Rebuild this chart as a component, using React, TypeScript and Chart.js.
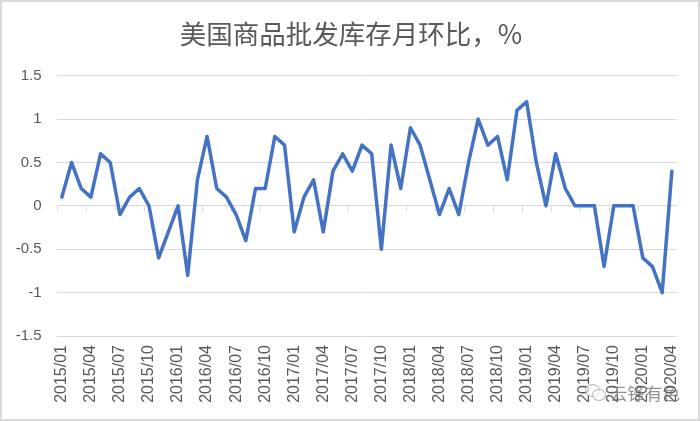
import React, { useEffect, useRef } from 'react';
import { Chart, registerables } from 'chart.js';

Chart.register(...registerables);

const TITLE = '美国商品批发库存月环比，%';
const WATERMARK = '云锋有色';

const categories = [
  '2015/01', '2015/02', '2015/03', '2015/04', '2015/05', '2015/06', '2015/07', '2015/08', '2015/09', '2015/10', '2015/11', '2015/12',
  '2016/01', '2016/02', '2016/03', '2016/04', '2016/05', '2016/06', '2016/07', '2016/08', '2016/09', '2016/10', '2016/11', '2016/12',
  '2017/01', '2017/02', '2017/03', '2017/04', '2017/05', '2017/06', '2017/07', '2017/08', '2017/09', '2017/10', '2017/11', '2017/12',
  '2018/01', '2018/02', '2018/03', '2018/04', '2018/05', '2018/06', '2018/07', '2018/08', '2018/09', '2018/10', '2018/11', '2018/12',
  '2019/01', '2019/02', '2019/03', '2019/04', '2019/05', '2019/06', '2019/07', '2019/08', '2019/09', '2019/10', '2019/11', '2019/12',
  '2020/01', '2020/02', '2020/03', '2020/04',
];

const values2015 = [0.1, 0.5, 0.2, 0.1, 0.6, 0.5, -0.1, 0.1, 0.2, 0.0, -0.6, -0.3];
const values2016 = [0.0, -0.8, 0.3, 0.8, 0.2, 0.1, -0.1, -0.4, 0.2, 0.2, 0.8, 0.7];
const values2017 = [-0.3, 0.1, 0.3, -0.3, 0.4, 0.6, 0.4, 0.7, 0.6, -0.5, 0.7, 0.2];
const values2018 = [0.9, 0.7, 0.3, -0.1, 0.2, -0.1, 0.5, 1.0, 0.7, 0.8, 0.3, 1.1];
const values2019 = [1.2, 0.5, 0.0, 0.6, 0.2, 0.0, 0.0, 0.0, -0.7, 0.0, 0.0, 0.0];
const values2020 = [-0.6, -0.7, -1.0, 0.4];

const seriesValues = [
  ...values2015, ...values2016, ...values2017, ...values2018, ...values2019, ...values2020,
];

const yTickLabels = ['-1.5', '-1', '-0.5', '0', '0.5', '1', '1.5'];
const Y_MIN = -1.5;
const Y_MAX = 1.5;
const Y_STEP = 0.5;
const LABEL_EVERY = 3;

const zeroTicksPlugin = {
  id: 'zeroTicks',
  beforeDatasetsDraw(chart: any) {
    const x = chart.scales.x;
    const y = chart.scales.y;
    const ctx = chart.ctx;
    const half = (x.getPixelForValue(1) - x.getPixelForValue(0)) / 2;
    const y0 = Math.round(y.getPixelForValue(0)) + 0.5;
    ctx.save();
    ctx.strokeStyle = '#d9d9d9';
    ctx.lineWidth = 1;
    ctx.beginPath();
    for (let i = 0; i < categories.length; i += LABEL_EVERY) {
      const px = Math.round(x.getPixelForValue(i) - half) + 0.5;
      ctx.moveTo(px, y0);
      ctx.lineTo(px, y0 + 5);
    }
    ctx.stroke();
    ctx.restore();
  },
};

export default function App() {
  const ref = useRef<HTMLCanvasElement>(null);

  useEffect(() => {
    document.body.style.margin = '0';
    const canvas = ref.current;
    if (!canvas) return;
    const chart = new Chart(canvas, {
      type: 'line',
      data: {
        labels: categories,
        datasets: [
          {
            data: seriesValues,
            borderColor: '#4472C4',
            backgroundColor: '#4472C4',
            borderWidth: 3.5,
            pointRadius: 0,
            tension: 0,
            borderJoinStyle: 'round',
            borderCapStyle: 'round',
          },
        ],
      },
      options: {
        responsive: false,
        animation: false,
        layout: { padding: { left: 0, right: 21.3, top: 73.7, bottom: 0 } },
        plugins: {
          legend: { display: false },
          tooltip: { enabled: false },
          title: { display: false },
        },
        scales: {
          x: {
            type: 'category',
            offset: true,
            grid: { display: false, drawTicks: false },
            border: { display: false },
            ticks: {
              autoSkip: false,
              maxRotation: 90,
              minRotation: 90,
              padding: 9,
              color: '#595959',
              font: { family: "'Liberation Sans', Arial, sans-serif", size: 16 },
              callback: (_v: any, i: number) => (i % LABEL_EVERY === 0 ? categories[i] : ''),
            },
            afterFit: (s: any) => {
              s.height = 83;
              s.paddingLeft = 0;
              s.paddingRight = 0;
            },
          },
          y: {
            min: Y_MIN,
            max: Y_MAX,
            grid: { color: '#d9d9d9', lineWidth: 1, drawTicks: false },
            border: { display: false },
            ticks: {
              stepSize: Y_STEP,
              padding: 15.5,
              color: '#595959',
              font: { family: "'Liberation Sans', Arial, sans-serif", size: 15 },
              callback: (_v: any, i: number) => yTickLabels[i],
            },
            afterFit: (s: any) => {
              s.width = 55;
              s.paddingTop = 0;
              s.paddingBottom = 0;
            },
          },
        },
      },
      plugins: [zeroTicksPlugin],
    });
    return () => chart.destroy();
  }, []);

  const bubble = (l: number, t: number, w: number, h: number) => ({
    position: 'absolute' as const,
    left: l,
    top: t,
    width: w,
    height: h,
    borderRadius: '50%',
    border: '1.5px solid rgba(150,150,150,0.7)',
    background: 'rgba(255,255,255,0.6)',
  });

  return (
    <div
      style={{
        position: 'relative',
        width: 700,
        height: 421,
        boxSizing: 'border-box',
        border: '2px solid #d9d9d9',
        background: '#fff',
      }}
    >
      <div
        style={{
          position: 'absolute',
          left: -2,
          top: 15,
          width: 702,
          textAlign: 'center',
          fontFamily: "'Noto Sans CJK SC', sans-serif",
          fontSize: 26.5,
          lineHeight: '32px',
          color: '#595959',
          whiteSpace: 'nowrap',
        }}
      >
        {TITLE}
      </div>
      <canvas ref={ref} width={696} height={417} style={{ display: 'block', width: 696, height: 417 }} />
      <div style={bubble(583, 382, 13, 11)} />
      <div style={bubble(590, 387, 12, 10)} />
      <span
        style={{
          position: 'absolute',
          left: 608,
          top: 378,
          fontFamily: "'Noto Sans CJK SC', sans-serif",
          fontSize: 17.5,
          color: 'rgba(110,110,110,0.75)',
          whiteSpace: 'nowrap',
        }}
      >
        {WATERMARK}
      </span>
    </div>
  );
}
